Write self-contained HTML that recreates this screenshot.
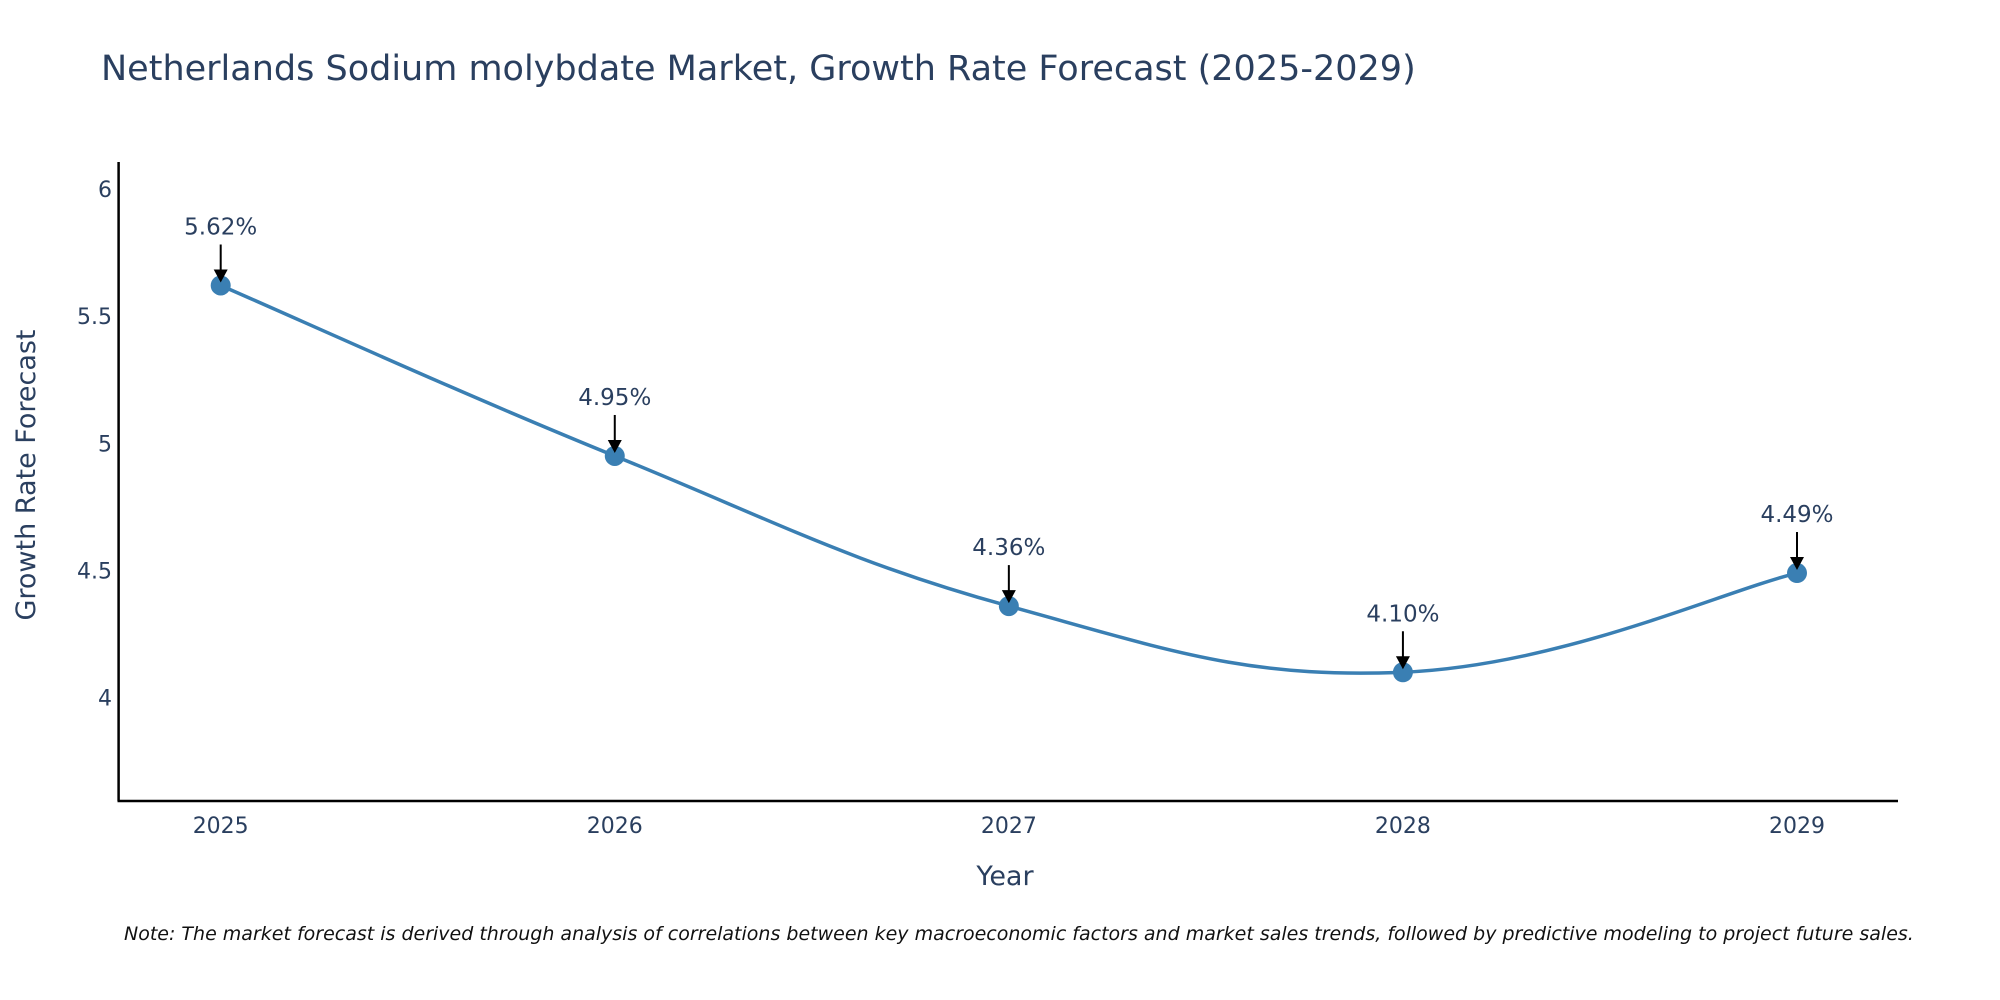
<!DOCTYPE html>
<html><head><meta charset="utf-8">
<style>
html,body{margin:0;padding:0;background:#fff;}
svg{display:block;font-family:"DejaVu Sans","Liberation Sans",sans-serif;}
</style></head>
<body>
<svg id="chart" width="2000" height="1000" viewBox="0 0 2000 1000">
<text x="101" y="80" font-size="35" fill="#2a3f5f">Netherlands Sodium molybdate Market, Growth Rate Forecast (2025-2029)</text>
<g id="axes"></g>
<g id="series"></g>
<g id="annotations"></g>
<text x="1005" y="885" font-size="27" fill="#2a3f5f" text-anchor="middle">Year</text>
<text transform="translate(35,475) rotate(-90)" font-size="27" fill="#2a3f5f" text-anchor="middle">Growth Rate Forecast</text>
<text x="124" y="940" font-size="19" font-style="italic" fill="#111">Note: The market forecast is derived through analysis of correlations between key macroeconomic factors and market sales trends, followed by predictive modeling to project future sales.</text>
</svg>
<script>
const years = ["2025","2026","2027","2028","2029"];
const growth = [5.62, 4.95, 4.36, 4.10, 4.49];
const labels = ["5.62%","4.95%","4.36%","4.10%","4.49%"];
const yTicks = [4, 4.5, 5, 5.5, 6];
const yTickLabels = ["4","4.5","5","5.5","6"];

const NS = "http://www.w3.org/2000/svg";
const X0 = 220.7, X1 = 1797;
const xScale = i => X0 + (X1 - X0) * i / (years.length - 1);
const yScale = v => 697.7 - (v - 4) * (697.7 - 188.8) / 2;
function mk(tag, attrs, parent){const e=document.createElementNS(NS,tag);for(const k in attrs)e.setAttribute(k,attrs[k]);parent.appendChild(e);return e;}

const axes = document.getElementById('axes');
const yl = mk('line',{x1:118.6,y1:162,x2:118.6,y2:801,stroke:'#000','stroke-width':2.5},axes);


const xl = mk('line',{x1:117.5,y1:801,x2:1898,y2:801,stroke:'#000','stroke-width':2.5},axes);


yTicks.forEach((v,i)=>{
  const t = mk('text',{x:112,y:yScale(v)+8,'font-size':22,fill:'#2a3f5f','text-anchor':'end'},axes);
  t.textContent = yTickLabels[i];
  
  
});
years.forEach((y,i)=>{
  const t = mk('text',{x:xScale(i),y:833,'font-size':22,fill:'#2a3f5f','text-anchor':'middle'},axes);
  t.textContent = y;
  
  
});

const pts = growth.map((v,i)=>[xScale(i), yScale(v)]);
let d = `M${pts[0][0]},${pts[0][1]}`;
const s = 0.2;
for(let i=0;i<pts.length-1;i++){
  const p0=pts[Math.max(0,i-1)],p1=pts[i],p2=pts[i+1],p3=pts[Math.min(pts.length-1,i+2)];
  const c1=[p1[0]+(p2[0]-p0[0])*s, p1[1]+(p2[1]-p0[1])*s];
  const c2=[p2[0]-(p3[0]-p1[0])*s, p2[1]-(p3[1]-p1[1])*s];
  d+=` C${c1[0]},${c1[1]} ${c2[0]},${c2[1]} ${p2[0]},${p2[1]}`;
}
const series = document.getElementById('series');
const line = mk('path',{d:d,fill:'none',stroke:'#3a7fb3','stroke-width':3.5},series);


pts.forEach(p=>{
  const c = mk('circle',{cx:p[0],cy:p[1],r:10,fill:'#3a7fb3'},series);
  
  
});

const ann = document.getElementById('annotations');
pts.forEach((p,i)=>{
  const top = p[1]-41;
  const a = mk('line',{x1:p[0],y1:top,x2:p[0],y2:p[1]-14,stroke:'#000','stroke-width':2},ann);
  
  
  const h = mk('polygon',{points:`${p[0]-7},${p[1]-16} ${p[0]+7},${p[1]-16} ${p[0]},${p[1]-3}`,fill:'#000'},ann);
  
  
  const t = mk('text',{x:p[0],y:top-10,'font-size':23,fill:'#2a3f5f','text-anchor':'middle'},ann);
  t.textContent = labels[i];
  
  
});
</script>
</body></html>
